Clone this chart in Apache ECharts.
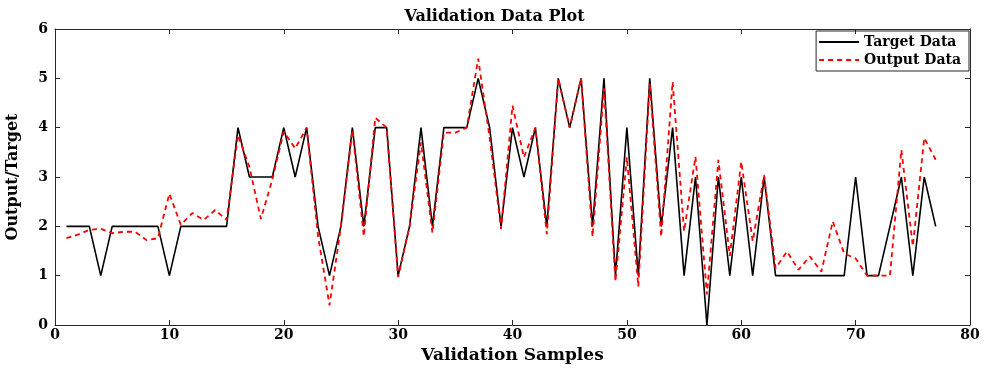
<!DOCTYPE html>
<html>
<head>
<meta charset="utf-8">
<script src="https://cdn.jsdelivr.net/npm/echarts@6/dist/echarts.min.js"></script>
<style>
  html, body { margin: 0; padding: 0; background: #fff; }
  #chart { width: 989px; height: 369px; }
</style>
</head>
<body>
<div id="chart"></div>
<script>
  // validation samples 1..77
  const samples = [];
  for (let i = 1; i <= 77; i++) samples.push(i);

  const targetData = [2, 2, 2, 1, 2, 2, 2, 2, 2, 1,
                      2, 2, 2, 2, 2, 4, 3, 3, 3, 4,
                      3, 4, 2, 1, 2, 4, 2, 4, 4, 1,
                      2, 4, 2, 4, 4, 4, 5, 4, 2, 4,
                      3, 4, 2, 5, 4, 5, 2, 5, 1, 4,
                      1, 5, 2, 4, 1, 3, 0, 3, 1, 3,
                      1, 3, 1, 1, 1, 1, 1, 1, 1, 3,
                      1, 1, 2, 3, 1, 3, 2];

  const outputData = [1.76, 1.83, 1.93, 1.95, 1.86, 1.89, 1.89, 1.72, 1.76, 2.66,
                      2.03, 2.27, 2.13, 2.33, 2.13, 3.85, 3.2, 2.15, 2.95, 3.92,
                      3.58, 4.0, 1.8, 0.4, 2.0, 3.95, 1.8, 4.2, 4.0, 0.97,
                      2.0, 3.7, 1.87, 3.9, 3.9, 4.0, 5.4, 3.8, 1.95, 4.45,
                      3.4, 4.0, 1.84, 5.0, 4.0, 5.0, 1.79, 4.8, 0.88, 3.4,
                      0.78, 4.9, 1.79, 4.93, 1.9, 3.41, 0.62, 3.35, 1.4, 3.31,
                      1.7, 3.04, 1.15, 1.49, 1.12, 1.39, 1.08, 2.1, 1.45, 1.35,
                      1.0, 1.0, 1.0, 3.55, 1.6, 3.79, 3.35];

  const xTicks = { min: 0, max: 80, interval: 10 };
  const yTicks = { min: 0, max: 6, interval: 1 };

  const serif = 'DejaVu Serif';
  let chart = echarts.init(document.getElementById('chart'));

  let axisCommon = {
    axisLine: { show: true, onZero: false, lineStyle: { color: '#262626', width: 1 } },
    axisTick: { show: true, inside: true, length: 5, lineStyle: { color: '#262626' } },
    splitLine: { show: false }
  };

  let option = {
    animation: false,
    backgroundColor: '#fff',
    title: {
      text: 'Validation Data Plot',
      left: 'center',
      top: 4,
      textStyle: { fontFamily: serif, fontWeight: 'bold', fontSize: 16, color: '#000' }
    },
    grid: { left: 55, right: 19, top: 29, bottom: 44, outerBoundsMode: 'none' },
    legend: {
      right: 20,
      top: 31,
      orient: 'vertical',
      itemGap: 4,
      itemWidth: 40,
      itemHeight: 10,
      padding: [4, 8, 4, 2],
      borderColor: '#262626',
      borderWidth: 1,
      itemStyle: { opacity: 0 },
      textStyle: { fontFamily: serif, fontWeight: 'bold', fontSize: 14, color: '#000' },
      data: ['Target Data', 'Output Data']
    },
    xAxis: [
      Object.assign({
        type: 'value',
        min: xTicks.min, max: xTicks.max, interval: xTicks.interval,
        name: 'Validation Samples',
        nameLocation: 'middle',
        nameGap: 22,
        nameTextStyle: { fontFamily: serif, fontWeight: 'bold', fontSize: 17, color: '#000' },
        axisLabel: { fontFamily: serif, fontWeight: 'bold', fontSize: 14, color: '#000', margin: 3 }
      }, axisCommon),
      Object.assign({
        type: 'value', position: 'top',
        min: xTicks.min, max: xTicks.max, interval: xTicks.interval,
        axisLabel: { show: false }
      }, axisCommon)
    ],
    yAxis: [
      Object.assign({
        type: 'value',
        min: yTicks.min, max: yTicks.max, interval: yTicks.interval,
        name: 'Output/Target',
        nameLocation: 'middle',
        nameGap: 34,
        nameTextStyle: { fontFamily: serif, fontWeight: 'bold', fontSize: 16, color: '#000' },
        axisLabel: { fontFamily: serif, fontWeight: 'bold', fontSize: 14, color: '#000', margin: 7 }
      }, axisCommon),
      Object.assign({
        type: 'value', position: 'right',
        min: yTicks.min, max: yTicks.max, interval: yTicks.interval,
        axisLabel: { show: false }
      }, axisCommon)
    ],
    series: [
      {
        name: 'Target Data',
        type: 'line',
        showSymbol: false,
        symbol: 'none',
        data: samples.map((s, i) => [s, targetData[i]]),
        lineStyle: { color: '#000', width: 1.6 },
        itemStyle: { color: '#000' },
        z: 2
      },
      {
        name: 'Output Data',
        type: 'line',
        showSymbol: false,
        symbol: 'none',
        data: samples.map((s, i) => [s, outputData[i]]),
        lineStyle: { color: '#ff0000', width: 1.8, type: [5, 4] },
        itemStyle: { color: '#ff0000' },
        z: 3
      }
    ]
  };

  chart.setOption(option);
</script>
</body>
</html>
